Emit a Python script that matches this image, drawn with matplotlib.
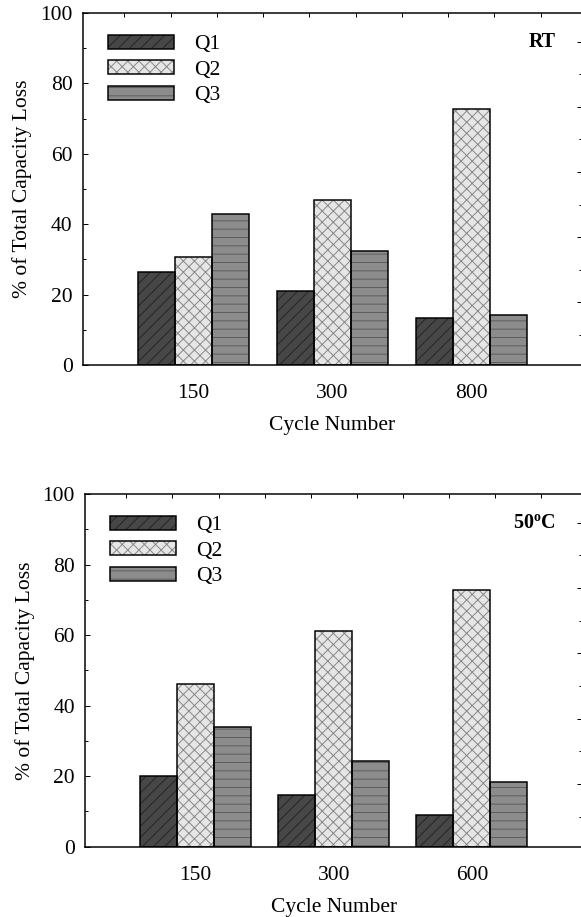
import matplotlib
matplotlib.use("Agg")
import matplotlib.pyplot as plt
from matplotlib.legend_handler import HandlerTuple
import numpy as np

# -----------------------------------
# DATA
# -----------------------------------

series_labels = ["Q1", "Q2", "Q3"]

rt_cycles = ["150", "300", "800"]
rt_q1 = [26.3, 20.9, 13.2]
rt_q2 = [30.7, 46.8, 72.7]
rt_q3 = [43.0, 32.4, 14.2]

hot_cycles = ["150", "300", "600"]
hot_q1 = [20.0, 14.6, 9.0]
hot_q2 = [46.0, 61.2, 72.9]
hot_q3 = [33.9, 24.2, 18.3]

# -----------------------------------
# STYLE
# -----------------------------------

DPI = 100
PX = 72 / DPI  # one pixel in points

plt.rcParams["font.family"] = ["Liberation Serif", "DejaVu Serif"]
plt.rcParams["mathtext.fontset"] = "custom"
plt.rcParams["mathtext.rm"] = "Liberation Serif"
plt.rcParams["mathtext.bf"] = "Liberation Serif:bold"
plt.rcParams["hatch.linewidth"] = 1.0 * PX

FS = 21.5 * PX

faces = ["#474747", "#e6e6e6", "#8c8c8c"]
hatch_cols = ["#262626", "#8a8a8a", "#5e5e5e"]
hatches = ["///", "xxx", "--"]
width = 0.267


def draw_panel(ax, cycles, values, tag, tag_x):

    x = np.arange(1, len(cycles) + 1)

    handles = []
    for k, vals in enumerate(values):
        pos = x + (k - 1) * width

        # hatch layer (hatch colour follows edge colour)
        ax.bar(pos, vals, width, color=faces[k], edgecolor=hatch_cols[k],
               hatch=hatches[k], linewidth=0, zorder=2)

        # black outline
        ax.bar(pos, vals, width, fill=False, edgecolor="black",
               linewidth=1.5 * PX, zorder=3)

        fill_h = plt.Rectangle((0, 0), 1, 1, facecolor=faces[k],
                               edgecolor=hatch_cols[k], hatch=hatches[k],
                               linewidth=0)
        edge_h = plt.Rectangle((0, 0), 1, 1, fill=False,
                               edgecolor="black", linewidth=1.5 * PX)
        handles.append((fill_h, edge_h))

    ax.set_xlim(0.2, 3.8)
    ax.set_ylim(0, 100)
    ax.set_xticks(x)
    ax.set_xticklabels(cycles)
    ax.set_yticks(np.arange(0, 101, 20))
    ax.set_yticks(np.arange(10, 100, 20), minor=True)

    ax.tick_params(axis="x", length=0, pad=19 * PX, labelsize=FS)
    ax.tick_params(axis="y", which="major", direction="in",
                   length=5 * PX, width=PX, pad=10 * PX,
                   labelsize=FS, right=False)
    ax.tick_params(axis="y", which="minor", direction="in",
                   length=3 * PX, width=PX, right=False)

    for s in ax.spines.values():
        s.set_linewidth(1.5 * PX)

    ax.set_xlabel("Cycle Number", fontsize=FS, labelpad=13 * PX)
    ax.set_ylabel("% of Total Capacity Loss", fontsize=FS,
                  labelpad=8 * PX)

    ax.legend(handles, series_labels, loc="upper left",
              bbox_to_anchor=(0.051, 0.938), frameon=False,
              fontsize=FS, handlelength=3.05, handleheight=0.62,
              handletextpad=0.95, labelspacing=0.28,
              borderpad=0, borderaxespad=0,
              handler_map={tuple: HandlerTuple(ndivide=1)})

    ax.text(tag_x, 0.918, tag, transform=ax.transAxes, ha="center",
            va="center", fontsize=20 * PX, fontweight="bold")

    # -----------------------------------
    # TOP TICKS
    # -----------------------------------

    top = ax.twiny()
    top.set_xlim(ax.get_xlim())
    top.set_xticks(np.arange(0.5, 3.6, 1 / 3))
    top.tick_params(axis="x", direction="in", length=4 * PX, width=PX,
                    labeltop=False)

    # -----------------------------------
    # RIGHT TICKS
    # -----------------------------------

    right = ax.twinx()
    right.set_ylim(0.08, 10.88)
    right.set_yticks(np.arange(2, 11, 2))
    right.set_yticks(np.arange(1, 11, 2), minor=True)
    right.tick_params(axis="y", which="major", direction="in",
                      length=5 * PX, width=PX, labelright=False)
    right.tick_params(axis="y", which="minor", direction="in",
                      length=3 * PX, width=PX)

    for a in (top, right):
        for s in a.spines.values():
            s.set_visible(False)


fig = plt.figure(figsize=(581 / DPI, 917 / DPI), dpi=DPI)

ax1 = fig.add_axes([0.1423, 0.6020, 0.8600, 0.3839])
ax2 = fig.add_axes([0.1463, 0.0767, 0.8560, 0.3846])

draw_panel(ax1, rt_cycles, [rt_q1, rt_q2, rt_q3], "RT", 0.92)
draw_panel(ax2, hot_cycles, [hot_q1, hot_q2, hot_q3],
           r"$\mathbf{50^{o}C}$", 0.903)

ax1.spines["right"].set_linewidth(1.0 * PX)
ax2.spines["right"].set_visible(False)

fig.savefig("out.png", dpi=DPI)
